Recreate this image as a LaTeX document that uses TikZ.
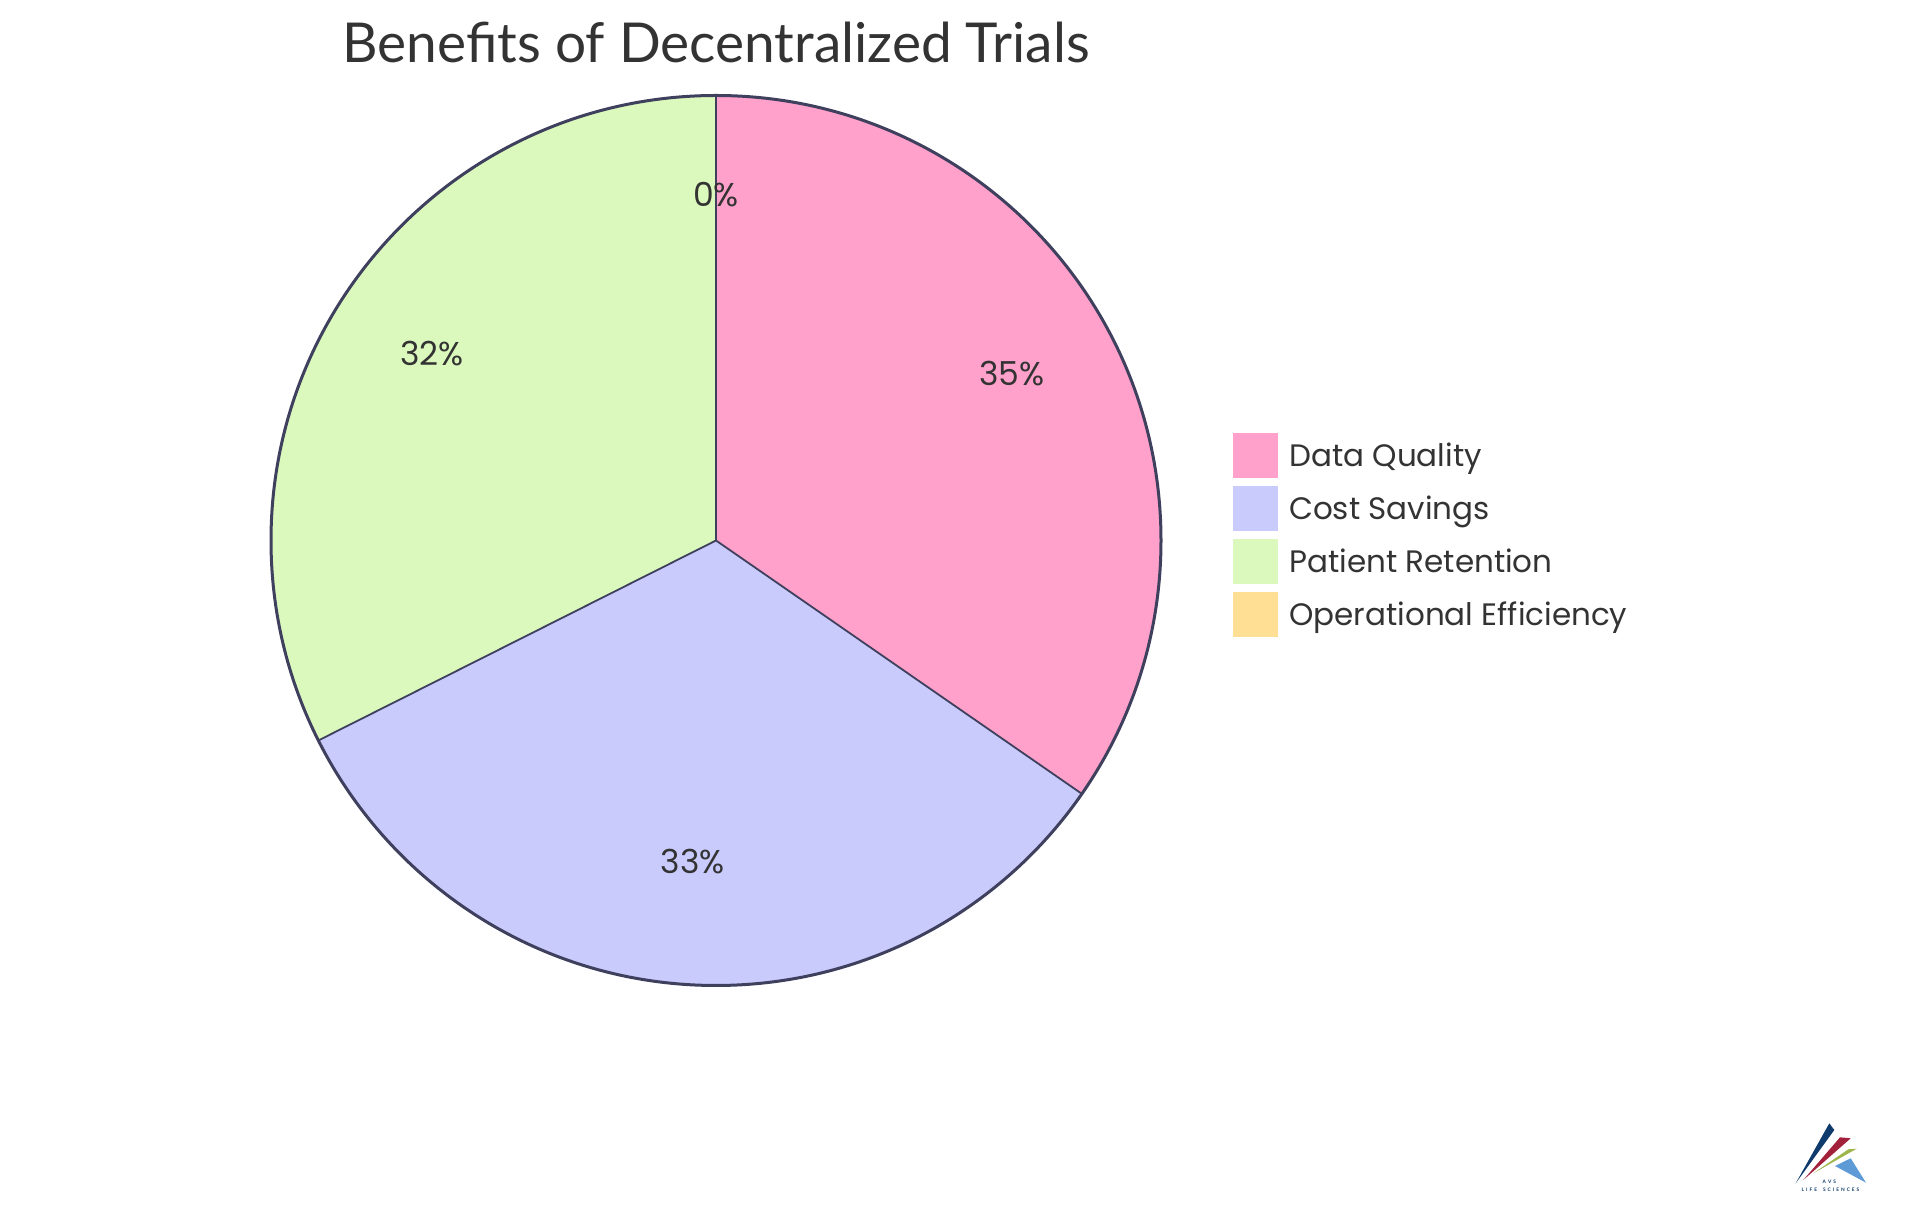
\documentclass[tikz,border=0pt]{standalone}
\usepackage{fontspec}
\setmainfont{Lato}
\newfontfamily\keyfont{Poppins}
\usepackage{tikz}
\usetikzlibrary{positioning}
\definecolor{dqpink}{HTML}{FFA1CB}
\definecolor{cslav}{HTML}{CACBFD}
\definecolor{prgreen}{HTML}{DBF9BD}
\definecolor{oeorange}{HTML}{FFDF94}
\definecolor{pieline}{HTML}{3E405E}
\definecolor{txtgray}{HTML}{333333}
\definecolor{avsnavy}{HTML}{0E3A6C}
\definecolor{avsred}{HTML}{A3203A}
\definecolor{avsgreen}{HTML}{9DB64C}
\definecolor{avsblue}{HTML}{5E9AD6}
\newcommand{\avsgap}{\kern2pt}
\tikzset{
  innerline/.style={draw=pieline, line width=1.8pt},
  outerline/.style={draw=pieline, line width=3pt},
  pctlabel/.style={text=txtgray, font=\keyfont\fontsize{33}{40}\selectfont},
  keybox/.style={minimum size=45pt, inner sep=0pt},
  keytext/.style={anchor=base west, text=txtgray, inner sep=0pt, font=\keyfont\fontsize{31}{38}\selectfont},
  logotext/.style={inner sep=0pt, text=avsnavy, font=\fontsize{4.8}{5}\selectfont\bfseries}
}
\begin{document}
\begin{tikzpicture}[x=1pt,y=1pt]
  \useasboundingbox (0,0) rectangle (1920,1215);
  \node [text=txtgray, font=\fontsize{55}{66}\selectfont] (title) at (716,1173) {Benefits of Decentralized Trials};
  % pie
  \begin{scope}[shift={(716,674.5)}]
    \coordinate (ctr) at (0,0);
    \fill [dqpink] (ctr) -- (90:445) arc [start angle=90, end angle=-34.7, radius=445] -- cycle;
    \fill [cslav] (ctr) -- (-34.7:445) arc [start angle=-34.7, end angle=-153.3, radius=445] -- cycle;
    \fill [prgreen] (ctr) -- (-153.3:445) arc [start angle=-153.3, end angle=-270, radius=445] -- cycle;
    \draw [innerline] (ctr) -- (90:445) (ctr) -- (-34.7:445) (ctr) -- (-153.3:445);
    \draw [outerline] (ctr) circle [radius=445];
    \node [pctlabel] (pctDQ) at ([yshift=12pt]27.65:333.75) {35\%};
    \node [pctlabel] (pctCS) at ([yshift=12pt]-94:333.75) {33\%};
    \node [pctlabel] (pctPR) at ([yshift=12pt]148.35:333.75) {32\%};
    \node [pctlabel] (pctOE) at ([yshift=12pt]90:333.75) {0\%};
  \end{scope}
  % legend
  \foreach \col/\txt [count=\i] in {dqpink/Data Quality, cslav/Cost Savings, prgreen/Patient Retention, oeorange/Operational Efficiency} {
    \node [keybox, fill=\col] (key\i) at (1255.5,{812.5-53*\i}) {};
    \node [keytext] (keytxt\i) at (1289,{812.5-53*\i-10.8}) {\txt};
  }
  % logo
  \fill [avsnavy] (1795.7,31.7) -- (1829.3,91.7) -- (1834.3,85) -- cycle;
  \fill [avsred] (1803.3,35) -- (1840,77.7) -- (1850.7,76.7) -- cycle;
  \fill [avsgreen] (1813.3,41.7) -- (1848.3,65.7) -- (1856.7,66.3) -- cycle;
  \fill [avsblue] (1835,49) -- (1850.7,56.7) -- (1866,32.3) -- cycle;
  \node [logotext] (avs) at (1829.3,33) {A\avsgap V\avsgap S};
  \node [logotext] (lifesci) at (1830.5,25.7) {L\avsgap I\avsgap F\avsgap E\avsgap\avsgap\avsgap S\avsgap C\avsgap I\avsgap E\avsgap N\avsgap C\avsgap E\avsgap S};
\end{tikzpicture}
\end{document}
